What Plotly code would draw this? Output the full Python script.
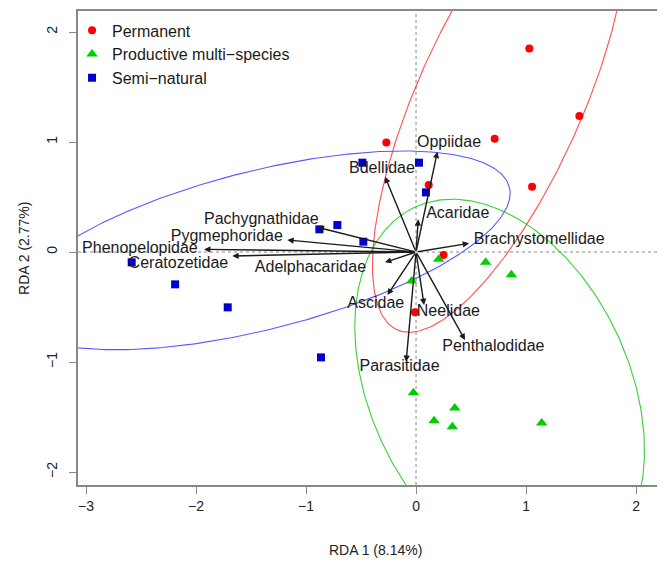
import numpy as np
import plotly.graph_objects as go

# ---- site scores (RDA 1, RDA 2) ----
perm_x = [1.03, 1.485, 0.715, -0.27, 1.055, 0.115, 0.25, -0.01]
perm_y = [1.85, 1.236, 1.03, 0.996, 0.594, 0.609, -0.027, -0.548]

prod_x = [0.206, 0.633, 0.867, -0.04, -0.024, 0.352, 0.164, 0.33, 1.142]
prod_y = [-0.066, -0.094, -0.206, -0.264, -1.279, -1.418, -1.533, -1.588, -1.555]

semi_x = [-0.488, 0.027, 0.09, -0.715, -0.479, -0.879, -2.585, -2.19, -1.712, -0.864]
semi_y = [0.812, 0.812, 0.542, 0.245, 0.094, 0.206, -0.094, -0.294, -0.503, -0.958]

# ---- species arrows ----
species = ["Oppiidae", "Bdellidae", "Acaridae", "Brachystomellidae", "Pachygnathidae",
           "Pygmephoridae", "Phenopelopidae", "Ceratozetidae", "Adelphacaridae",
           "Ascidae", "Neelidae", "Penthalodidae", "Parasitidae"]
arrow_x = [0.194, -0.282, 0.02, 0.482, -0.894, -1.17, -1.927, -1.67, -0.282, -0.26, 0.073, 0.445, -0.09]
arrow_y = [0.912, 0.685, 0.297, 0.079, 0.224, 0.109, 0.024, -0.036, -0.094, -0.39, -0.482, -0.80, -0.997]
label_x = [0.30, -0.31, 0.379, 1.12, -1.406, -1.72, -2.51, -2.16, -0.96, -0.366, 0.294, 0.703, -0.15]
label_y = [0.99, 0.755, 0.343, 0.109, 0.29, 0.139, 0.027, -0.109, -0.145, -0.473, -0.542, -0.867, -1.042]

# ---- group ellipses: centre x, centre y, semi-major, semi-minor, angle (deg) ----
ell_groups = ["Permanent", "Productive multi-species", "Semi-natural"]
ell_cx = [0.76, 0.76, -1.42]
ell_cy = [1.38, -1.24, 0.015]
ell_a = [2.286, 1.8185, 2.34]
ell_b = [0.750, 1.177, 0.72]
ell_ang = [65.95, -64.8, 14.2]

x_ticks = [-3, -2, -1, 0, 1, 2]
y_ticks = [-2, -1, 0, 1, 2]

col_pts = {"Permanent": "#FF0000", "Productive multi-species": "#00CD00", "Semi-natural": "#0000CD"}
col_ell = {"Permanent": "rgba(255,60,60,0.9)", "Productive multi-species": "rgba(30,205,30,0.9)",
           "Semi-natural": "rgba(70,70,255,0.9)"}

fig = go.Figure()

# ellipses
t = np.linspace(0, 2 * np.pi, 400)
for g, cx, cy, a, b, ang in zip(ell_groups, ell_cx, ell_cy, ell_a, ell_b, ell_ang):
    th = np.deg2rad(ang)
    ex = cx + a * np.cos(t) * np.cos(th) - b * np.sin(t) * np.sin(th)
    ey = cy + a * np.cos(t) * np.sin(th) + b * np.sin(t) * np.cos(th)
    fig.add_trace(go.Scatter(x=ex, y=ey, mode="lines", line=dict(color=col_ell[g], width=1.1),
                             showlegend=False, hoverinfo="skip"))

# points
fig.add_trace(go.Scatter(x=perm_x, y=perm_y, mode="markers", name="Permanent",
                         marker=dict(symbol="circle", size=8, color=col_pts["Permanent"])))
fig.add_trace(go.Scatter(x=prod_x, y=prod_y, mode="markers", name="Productive multi\u2212species",
                         marker=dict(symbol="triangle-up", size=10, color=col_pts["Productive multi-species"])))
fig.add_trace(go.Scatter(x=semi_x, y=semi_y, mode="markers", name="Semi\u2212natural",
                         marker=dict(symbol="square", size=8, color=col_pts["Semi-natural"])))

# species labels
fig.add_trace(go.Scatter(x=label_x, y=label_y, mode="text", text=species,
                         textfont=dict(family="Liberation Sans, Arial, sans-serif", size=16, color="#1a1a1a"),
                         showlegend=False, hoverinfo="skip"))

annotations = []
for ax_, ay_ in zip(arrow_x, arrow_y):
    annotations.append(dict(x=ax_, y=ay_, ax=0, ay=0, xref="x", yref="y", axref="x", ayref="y",
                            showarrow=True, arrowhead=2, arrowsize=0.9, arrowwidth=1.4,
                            arrowcolor="#1a1a1a", text=""))

# axis titles
annotations.append(dict(text="RDA 1 (8.14%)", xref="paper", yref="paper", x=0.5, y=-0.137,
                        xanchor="center", yanchor="middle", showarrow=False,
                        font=dict(size=14, color="#222222")))
annotations.append(dict(text="RDA 2 (2.77%)", xref="paper", yref="paper", x=-0.0908, y=0.5,
                        xanchor="center", yanchor="middle", showarrow=False, textangle=-90,
                        font=dict(size=14, color="#222222")))

shapes = [
    dict(type="line", xref="x", yref="paper", x0=0, x1=0, y0=0, y1=1,
         line=dict(color="#888888", width=1, dash="dot"), layer="below"),
    dict(type="line", xref="paper", yref="y", x0=0, x1=1, y0=0, y1=0,
         line=dict(color="#888888", width=1, dash="dot"), layer="below"),
]

fig.update_layout(
    width=665, height=571,
    margin=dict(l=70, r=0, t=3, b=94, autoexpand=False),
    plot_bgcolor="white", paper_bgcolor="white",
    font=dict(family="Liberation Sans, Arial, sans-serif", size=14, color="#222222"),
    shapes=shapes, annotations=annotations,
    legend=dict(x=-0.01, y=0.995, xanchor="left", yanchor="top", bgcolor="rgba(0,0,0,0)",
                font=dict(size=16, color="#1a1a1a"), itemwidth=30, tracegroupgap=0),
    xaxis=dict(range=[-3.073, 2.336], tickvals=x_ticks, automargin=False,
               showgrid=False, zeroline=False, showline=True, linecolor="#888888", linewidth=1.5,
               mirror=True, ticks="outside", ticklen=7, tickcolor="#888888", tickwidth=1.2,
               tickfont=dict(size=14, color="#222222")),
    yaxis=dict(range=[-2.118, 2.191], tickvals=y_ticks, automargin=False,
               showgrid=False, zeroline=False, showline=True, linecolor="#888888", linewidth=1.5,
               mirror=False, ticks="outside", ticklen=7, tickcolor="#888888", tickwidth=1.2,
               tickangle=-90, tickfont=dict(size=14, color="#222222"), ticklabelstandoff=7),
)

fig.write_html("out.html")
